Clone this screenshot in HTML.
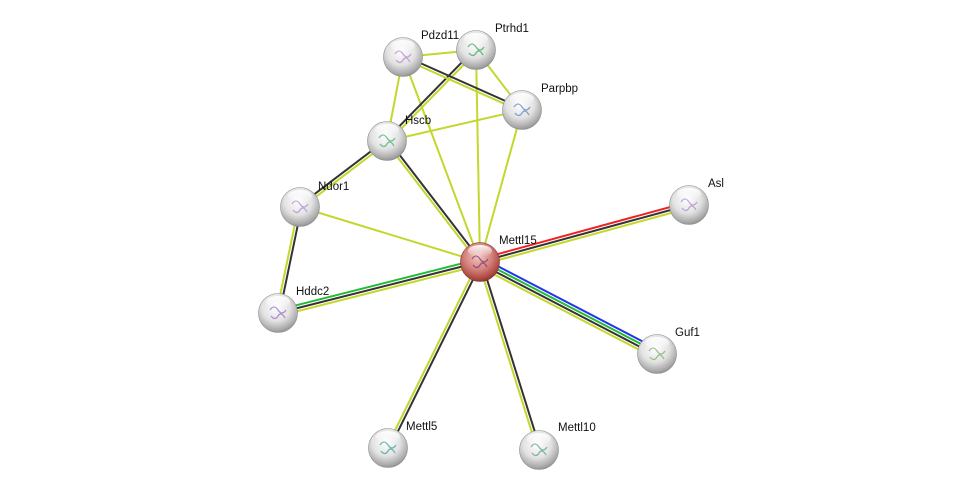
<!DOCTYPE html>
<html><head><meta charset="utf-8">
<style>
html,body{margin:0;padding:0;background:#fff;}
svg{display:block;}
text{font-family:"Liberation Sans",sans-serif;font-size:11.5px;fill:#111;}
</style></head>
<body>
<svg id="s" width="975" height="494" xmlns="http://www.w3.org/2000/svg">
<defs>
<radialGradient id="g" cx="0.45" cy="0.35" r="0.72">
<stop offset="0" stop-color="#ffffff"/>
<stop offset="0.5" stop-color="#e2e2e2"/>
<stop offset="0.82" stop-color="#a8a8a8"/>
<stop offset="1" stop-color="#7a7a7a"/>
</radialGradient>
<radialGradient id="r" cx="0.45" cy="0.35" r="0.72">
<stop offset="0" stop-color="#f4cac6"/>
<stop offset="0.5" stop-color="#d47f79"/>
<stop offset="0.82" stop-color="#a8463f"/>
<stop offset="1" stop-color="#6e2420"/>
</radialGradient>
<linearGradient id="hl" x1="0" y1="0" x2="0" y2="1">
<stop offset="0" stop-color="#fff" stop-opacity="0.95"/>
<stop offset="1" stop-color="#fff" stop-opacity="0"/>
</linearGradient>
</defs>
<g id="edges"></g>
<g id="nodes"></g>
</svg>
<script>
var N={
Pdzd11:[403,57],Ptrhd1:[476,50],Parpbp:[522,110],Hscb:[387,141],Ndor1:[300,207],
Asl:[689,205],Mettl15:[480,262],Hddc2:[278,313],Guf1:[657,354],Mettl5:[388,448],Mettl10:[539,450]};
var Y="#c4d72c",K="#333333",R="#ee2222",B="#2233ee",G="#22bb33";
var E=[
["Mettl15","Asl",[R,K,Y]],
["Mettl15","Guf1",[B,G,K,Y]],
["Hddc2","Mettl15",[G,K,Y]],
["Mettl15","Mettl5",[K,Y]],
["Mettl15","Mettl10",[K,Y]],
["Hscb","Mettl15",[K,Y]],
["Ndor1","Mettl15",[Y]],
["Pdzd11","Mettl15",[Y]],
["Ptrhd1","Mettl15",[Y]],
["Parpbp","Mettl15",[Y]],
["Ndor1","Hddc2",[K,Y]],
["Hscb","Ndor1",[Y,K]],
["Hscb","Pdzd11",[Y]],
["Hscb","Ptrhd1",[K,Y]],
["Hscb","Parpbp",[Y]],
["Pdzd11","Ptrhd1",[Y]],
["Pdzd11","Parpbp",[K,Y]],
["Ptrhd1","Parpbp",[Y]]];
var ns="http://www.w3.org/2000/svg",ge=document.getElementById("edges"),gn=document.getElementById("nodes");
E.forEach(function(e){var a=N[e[0]],b=N[e[1]],dx=b[0]-a[0],dy=b[1]-a[1],L=Math.hypot(dx,dy),px=-dy/L,py=dx/L,n=e[2].length;
e[2].forEach(function(c,i){var o=(i-(n-1)/2)*3;var l=document.createElementNS(ns,"line");
l.setAttribute("x1",a[0]+px*o);l.setAttribute("y1",a[1]+py*o);l.setAttribute("x2",b[0]+px*o);l.setAttribute("y2",b[1]+py*o);
l.setAttribute("stroke",c);l.setAttribute("stroke-width","2");ge.appendChild(l);});});
var lab={Pdzd11:[18,-22],Ptrhd1:[19,-22],Parpbp:[19,-22],Hscb:[18,-21],Ndor1:[18,-21],Asl:[19,-22],Mettl15:[19,-22],Hddc2:[18,-22],Guf1:[18,-22],Mettl5:[18,-22],Mettl10:[19,-23]};
var pc={Pdzd11:"#b48ad0",Ptrhd1:"#3aa860",Parpbp:"#5a8ac0",Hscb:"#4cb070",Ndor1:"#b48ad0",Asl:"#b48ad0",Mettl15:"#7a3a70",Hddc2:"#9a70c8",Guf1:"#80b070",Mettl5:"#40a0a0",Mettl10:"#60a090"};
Object.keys(N).forEach(function(k){var p=N[k];
var c=document.createElementNS(ns,"circle");c.setAttribute("cx",p[0]);c.setAttribute("cy",p[1]);c.setAttribute("r",19.5);
c.setAttribute("fill",k=="Mettl15"?"url(#r)":"url(#g)");c.setAttribute("stroke",k=="Mettl15"?"#7a302c":"#8a8a8a");c.setAttribute("stroke-width","0.6");gn.appendChild(c);
var s=document.createElementNS(ns,"path");
s.setAttribute("d","M"+(p[0]-8)+" "+(p[1]-3)+" q4 -6 8 0 t8 0 M"+(p[0]-7)+" "+(p[1]+3)+" q4 5 7 0 t7 2");
s.setAttribute("fill","none");s.setAttribute("stroke",pc[k]);s.setAttribute("stroke-width","1.3");s.setAttribute("opacity","0.75");gn.appendChild(s);
var e=document.createElementNS(ns,"ellipse");e.setAttribute("cx",p[0]);e.setAttribute("cy",p[1]-11);e.setAttribute("rx",12);e.setAttribute("ry",6);e.setAttribute("fill","url(#hl)");gn.appendChild(e);
var t=document.createElementNS(ns,"text");t.setAttribute("x",p[0]+lab[k][0]);t.setAttribute("y",p[1]+lab[k][1]+4);t.textContent=k;gn.appendChild(t);});
</script>
</body></html>
